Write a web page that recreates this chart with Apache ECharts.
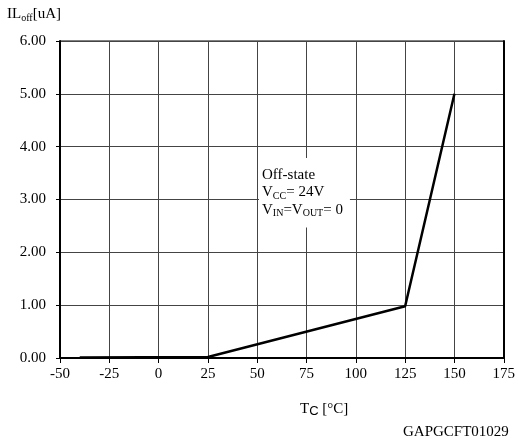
<!DOCTYPE html>
<html><head><meta charset="utf-8">
<script src="https://cdn.jsdelivr.net/npm/echarts@6/dist/echarts.min.js"></script>
<style>html,body{margin:0;padding:0;background:#fff}#c{width:518px;height:445px}</style>
</head><body><div id="c"></div>
<script>
const temps = [-40, 25, 125, 150];
const ilOff = [0.01, 0.02, 0.98, 5.0];
const xTicks = [-50, -25, 0, 25, 50, 75, 100, 125, 150, 175];
const yTicks = [0, 1, 2, 3, 4, 5, 6];
const serif = '"Liberation Serif","Times New Roman",serif';
const chart = echarts.init(document.getElementById('c'));
const sub = {fontFamily: serif, fontSize: 10, verticalAlign: 'bottom', lineHeight: 15};
const main = {fontFamily: serif, fontSize: 15, lineHeight: 17.5};
chart.setOption({
  animation: false,
  grid: {left: 60, right: 9, top: 41, bottom: 87, show: true, borderColor: '#000', borderWidth: 1},
  xAxis: {type: 'value', min: -50, max: 175, interval: 25,
    axisLine: {onZero: false, lineStyle: {color: '#000', width: 2}},
    axisTick: {show: true, length: 5, lineStyle: {color: '#000'}},
    axisLabel: {color: '#000', fontFamily: serif, fontSize: 15, margin: 9,
      formatter: v => xTicks.includes(v) ? String(v) : ''},
    splitLine: {show: true, lineStyle: {color: '#444', width: 1}}},
  yAxis: [{type: 'value', min: 0, max: 6, interval: 1,
    axisLine: {show: true, onZero: false, lineStyle: {color: '#000', width: 2}},
    axisTick: {show: true, length: 4, lineStyle: {color: '#000'}},
    axisLabel: {color: '#000', fontFamily: serif, fontSize: 15, margin: 14,
      formatter: v => yTicks.includes(v) ? v.toFixed(2) : ''},
    splitLine: {show: true, lineStyle: {color: '#444', width: 1}}},
    {type: 'value', min: 0, max: 6, interval: 1, position: 'right',
    axisLine: {show: true, onZero: false, lineStyle: {color: '#000', width: 2}},
    axisTick: {show: false}, axisLabel: {show: false}, splitLine: {show: false}}],
  series: [{type: 'line', data: temps.map((t, i) => [t, ilOff[i]]), symbol: 'none',
    lineStyle: {color: '#000', width: 2.5}, z: 3}],
  graphic: [
    {type: 'text', left: 7, top: 7, z: 100, style: {text: '{m|IL}{s|off}{m|[uA]}',
      rich: {m: main, s: sub}}},
    {type: 'text', left: 259, top: 158, z: 100, style: {
      text: '{m|Off-state}\n{m|V}{s|CC}{m|= 24V}\n{m|V}{s|IN}{m|=V}{s|OUT}{m|= 0}',
      backgroundColor: '#fff', padding: [8, 7, 9, 3],
      rich: {m: main, s: sub}}},
    {type: 'text', left: 300, top: 402, z: 100, style: {text: '{m|T}{c|C}{m| [°C]}',
      rich: {m: main, c: {fontFamily: 'Liberation Sans, Arial, sans-serif', fontSize: 13, verticalAlign: 'bottom', lineHeight: 16}}}},
    {type: 'text', left: 403, top: 425, z: 100, style: {text: 'GAPGCFT01029', fontFamily: serif, fontSize: 15, fill: '#000'}}
  ]
});
</script></body></html>
